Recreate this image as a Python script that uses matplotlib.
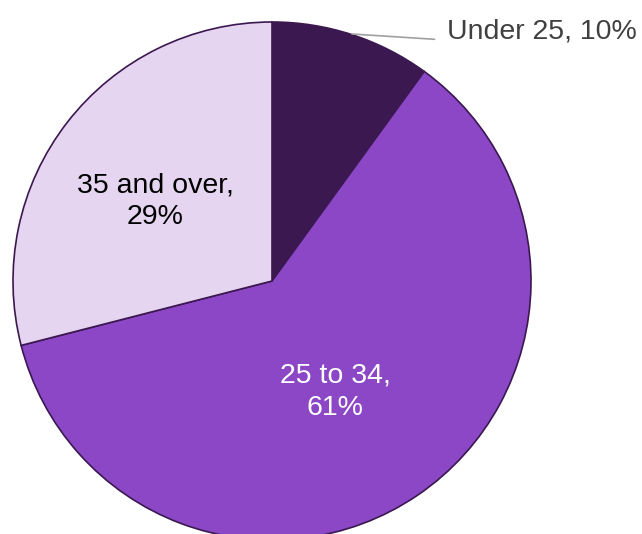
import matplotlib.pyplot as plt

# --- Data ---
labels = ["Under 25", "25 to 34", "35 and over"]
shares = [10, 61, 29]
colors = ["#3B1850", "#8B47C6", "#E5D5F0"]

plt.rcParams["font.family"] = ["Liberation Sans", "DejaVu Sans"]

fig = plt.figure(figsize=(6.42, 5.34), dpi=100)
ax = fig.add_axes([0, 0, 1, 1])

# pie drawn clockwise from 12 o'clock
ax.pie(shares, colors=colors, startangle=90, counterclock=False,
       center=(272, 253), radius=259, frame=True,
       wedgeprops=dict(edgecolor="#3B1850", linewidth=1.2))
ax.set_xlim(0, 642)
ax.set_ylim(0, 534)
ax.set_aspect("equal")
ax.axis("off")

# --- Labels ---
ax.text(155, 333, f"{labels[2]},\n{shares[2]}%", ha="center", va="center",
        fontsize=20.5, color="black", linespacing=1.3)
ax.text(335, 142, f"{labels[1]},\n{shares[1]}%", ha="center", va="center",
        fontsize=20.5, color="white", linespacing=1.3)
ax.annotate(f"{labels[0]}, {shares[0]}%", xy=(352, 500), xytext=(447, 503),
            ha="left", va="center", fontsize=20.5, color="#404040",
            arrowprops=dict(arrowstyle="-", color="#A0A0A0", lw=1.2,
                            relpos=(0, 0.15), shrinkA=7, shrinkB=0))

fig.savefig("out.png", dpi=100)
